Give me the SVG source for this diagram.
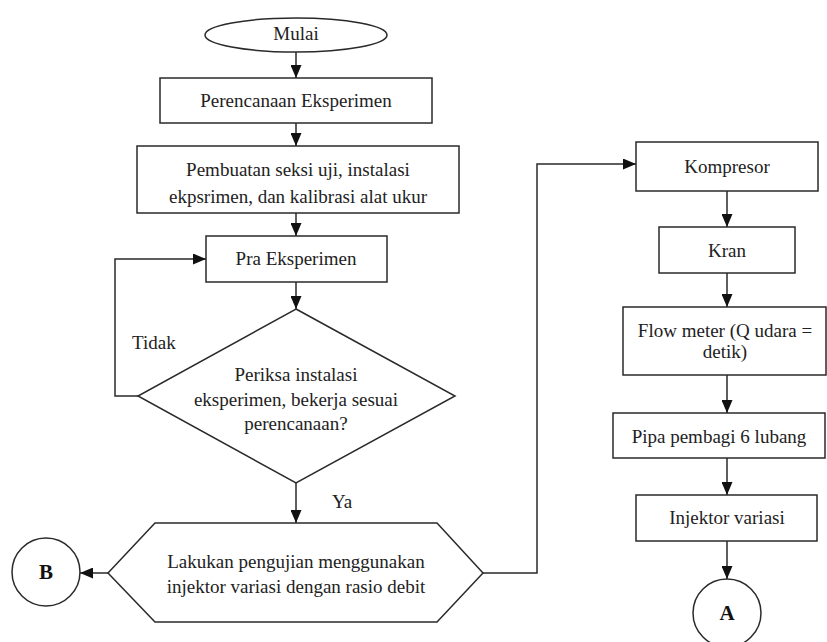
<svg xmlns="http://www.w3.org/2000/svg" width="827" height="642" viewBox="0 0 827 642">
<style>
.s{fill:#fff;stroke:#2a2a2a;stroke-width:1.5}
.c{fill:none;stroke:#2a2a2a;stroke-width:1.5}
text{font-family:'Liberation Serif','Times New Roman','DejaVu Serif',serif;font-size:19px;fill:#222}
.t{text-anchor:middle}
.b{font-size:21px;font-weight:bold;fill:#111;text-anchor:middle}
</style>
<defs>
<marker id="ah" markerUnits="userSpaceOnUse" markerWidth="13" markerHeight="11" refX="13" refY="5.5" orient="auto">
<path d="M0,0 L13,5.5 L0,11 z" fill="#111"/>
</marker>
</defs>
<rect width="827" height="642" fill="#fff"/>
<g id="connectors">
<line class="c" x1="296" y1="52" x2="296" y2="78" marker-end="url(#ah)"/>
<line class="c" x1="296" y1="123" x2="296" y2="146" marker-end="url(#ah)"/>
<line class="c" x1="296" y1="213" x2="296" y2="236" marker-end="url(#ah)"/>
<line class="c" x1="296" y1="282" x2="296" y2="309" marker-end="url(#ah)"/>
<polyline class="c" points="138,396 115,396 115,259 206,259" marker-end="url(#ah)"/>
<line class="c" x1="296" y1="483" x2="296" y2="523" marker-end="url(#ah)"/>
<line class="c" x1="108" y1="573" x2="80" y2="573" marker-end="url(#ah)"/>
<polyline class="c" points="483,573 537,573 537,164 636,164" marker-end="url(#ah)"/>
<line class="c" x1="727" y1="191" x2="727" y2="227" marker-end="url(#ah)"/>
<line class="c" x1="727" y1="273" x2="727" y2="307" marker-end="url(#ah)"/>
<line class="c" x1="727" y1="375" x2="727" y2="413" marker-end="url(#ah)"/>
<line class="c" x1="727" y1="458" x2="727" y2="495" marker-end="url(#ah)"/>
<line class="c" x1="727" y1="541" x2="727" y2="579" marker-end="url(#ah)"/>
<text x="132" y="349" font-family="Liberation Serif, serif">Tidak</text>
<text x="332" y="508" font-family="Liberation Serif, serif">Ya</text>
</g>
<g id="mulai">
<ellipse class="s" cx="296" cy="35" rx="91" ry="17"/>
<text class="t" x="296" y="40">Mulai</text>
</g>
<g id="perencanaan">
<rect class="s" x="160" y="78" width="272" height="45"/>
<text class="t" x="296" y="107">Perencanaan Eksperimen</text>
</g>
<g id="pembuatan">
<rect class="s" x="137" y="146" width="322" height="67"/>
<text class="t" x="298" y="176">Pembuatan seksi uji, instalasi</text>
<text class="t" x="298" y="203">ekpsrimen, dan kalibrasi alat ukur</text>
</g>
<g id="pra">
<rect class="s" x="206" y="236" width="181" height="46"/>
<text class="t" x="296" y="265">Pra Eksperimen</text>
</g>
<g id="periksa">
<polygon class="s" points="296,309 455,396 296,483 138,396"/>
<text class="t" x="296" y="381">Periksa instalasi</text>
<text class="t" x="296" y="406">eksperimen, bekerja sesuai</text>
<text class="t" x="296" y="430">perencanaan?</text>
</g>
<g id="lakukan">
<polygon class="s" points="108,573 155,523 437,523 483,573 437,622 155,622"/>
<text class="t" x="296" y="568">Lakukan pengujian menggunakan</text>
<text class="t" x="296" y="593">injektor variasi dengan rasio debit</text>
</g>
<g id="B">
<circle class="s" cx="46" cy="572" r="34"/>
<text class="b" x="46" y="579">B</text>
</g>
<g id="kompresor">
<rect class="s" x="636" y="142" width="182" height="49"/>
<text class="t" x="727" y="173">Kompresor</text>
</g>
<g id="kran">
<rect class="s" x="659" y="227" width="136" height="46"/>
<text class="t" x="727" y="257">Kran</text>
</g>
<g id="flowmeter">
<rect class="s" x="623" y="307" width="203" height="68"/>
<text class="t" x="725" y="337">Flow meter (Q udara =</text>
<text class="t" x="725" y="358">detik)</text>
</g>
<g id="pipa">
<rect class="s" x="613" y="413" width="212" height="45"/>
<text class="t" x="719" y="443">Pipa pembagi 6 lubang</text>
</g>
<g id="injektor">
<rect class="s" x="636" y="495" width="181" height="46"/>
<text class="t" x="727" y="524">Injektor variasi</text>
</g>
<g id="A">
<circle class="s" cx="727" cy="613" r="34"/>
<text class="b" x="727" y="620">A</text>
</g>
</svg>
